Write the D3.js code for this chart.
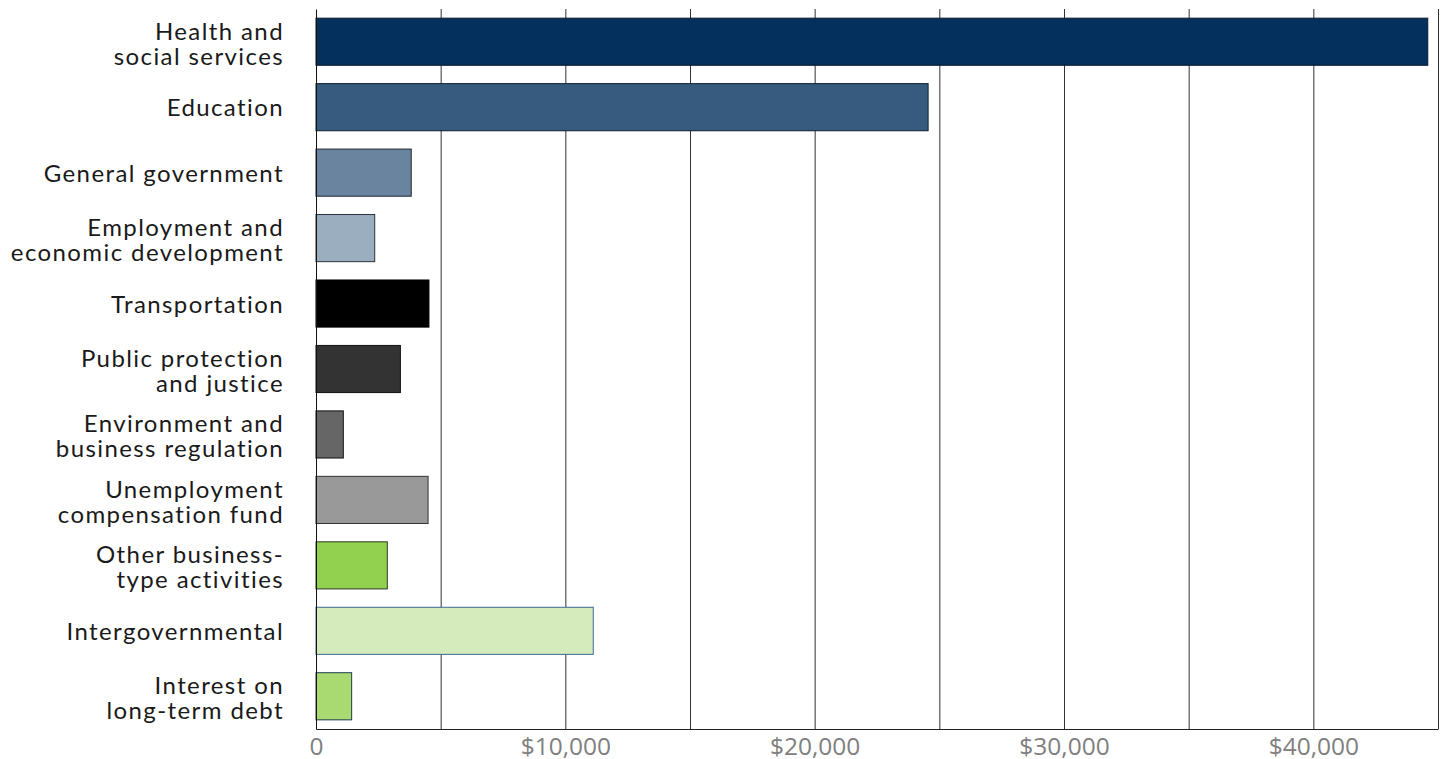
<!DOCTYPE html>
<html>
<head>
<meta charset="utf-8">
<script src="https://cdn.jsdelivr.net/npm/d3@7"></script>
<style>
  body { margin: 0; background: #fff; }
  svg { display: block; }
</style>
</head>
<body>
<div id="chart"></div>
<script>
// Expenses by function (thousands of dollars)
const categories = [
    "Health and\nsocial services",
    "Education",
    "General government",
    "Employment and\neconomic development",
    "Transportation",
    "Public protection\nand justice",
    "Environment and\nbusiness regulation",
    "Unemployment\ncompensation fund",
    "Other business-\ntype activities",
    "Intergovernmental",
    "Interest on\nlong-term debt"
];
const values = [44590, 24550, 3820, 2355, 4530, 3385, 1095, 4495, 2860, 11120, 1430];
const fills = ["#04305e", "#365b7e", "#6a84a0", "#9aaebf", "#000000", "#333333",
               "#666666", "#999999", "#92d050", "#d5ebbc", "#a9d971"];
const strokes = ["#0b1a2a", "#0f1f30", "#1e2a36", "#2a333c", "#000000", "#111111",
                 "#111111", "#333333", "#2c3a20", "#3a6a94", "#1c3b4f"];
const gridTicks = [5000, 10000, 15000, 20000, 25000, 30000, 35000, 40000, 45000];
const labelTicks = [0, 10000, 20000, 30000, 40000];

const W = 1445, H = 759;
const margin = {top: 9, right: 7, bottom: 30, left: 316};
const width = W - margin.left - margin.right;
const height = H - margin.top - margin.bottom;

const svg = d3.select("#chart")
    .append("svg")
    .attr("width", W)
    .attr("height", H)
    .append("g")
    .attr("transform", `translate(${margin.left},${margin.top})`);

const x = d3.scaleLinear()
    .domain([0, 45000])
    .range([0, width]);

const y = d3.scaleBand()
    .domain(categories)
    .range([0, height])
    .paddingInner(0.28)
    .paddingOuter(0.14);

// gridlines
svg.append("g")
    .attr("class", "grid")
    .attr("transform", `translate(0,${height})`)
    .call(d3.axisBottom(x).tickValues(gridTicks).tickSize(-height).tickFormat(""))
    .call(g => g.select(".domain").remove())
    .call(g => g.selectAll("line").attr("stroke", "#333").attr("stroke-width", 1));

// bars
svg.selectAll(".bar")
    .data(values)
    .enter().append("rect")
    .attr("class", "bar")
    .attr("x", 0)
    .attr("y", (d, i) => y(categories[i]))
    .attr("width", d => x(d))
    .attr("height", y.bandwidth())
    .attr("fill", (d, i) => fills[i])
    .attr("stroke", (d, i) => strokes[i])
    .attr("stroke-width", 1);

// x axis labels
svg.append("g")
    .attr("transform", `translate(0,${height})`)
    .call(d3.axisBottom(x)
        .tickValues(labelTicks)
        .tickSize(0)
        .tickPadding(8)
        .tickFormat(d => d === 0 ? "0" : "$" + d3.format(",")(d)))
    .call(g => g.select(".domain").attr("stroke", "#222"))
    .selectAll("text")
    .attr("fill", "#808080")
    .style("font-family", "'Open Sans', sans-serif")
    .style("font-size", "24.5px")
    .attr("dy", "0.72em");

// y axis with category labels
const yAxis = svg.append("g")
    .call(d3.axisLeft(y).tickSize(0).tickPadding(32))
    .call(g => g.select(".domain").attr("stroke", "#111"));

yAxis.selectAll("text")
    .attr("fill", "#1a1a1a")
    .style("font-family", "Lato, sans-serif")
    .style("font-size", "24px")
    .style("letter-spacing", "1.4px")
    .attr("dy", null)
    .each(function(d) {
        const lines = d.split("\n");
        const t = d3.select(this).text(null);
        const first = lines.length > 1 ? -2 : 9;
        lines.forEach((line, i) => {
            t.append("tspan")
                .attr("x", -32)
                .attr("y", i === 0 ? first : first + 25 * i)
                .text(line);
        });
    });
</script>
</body>
</html>
